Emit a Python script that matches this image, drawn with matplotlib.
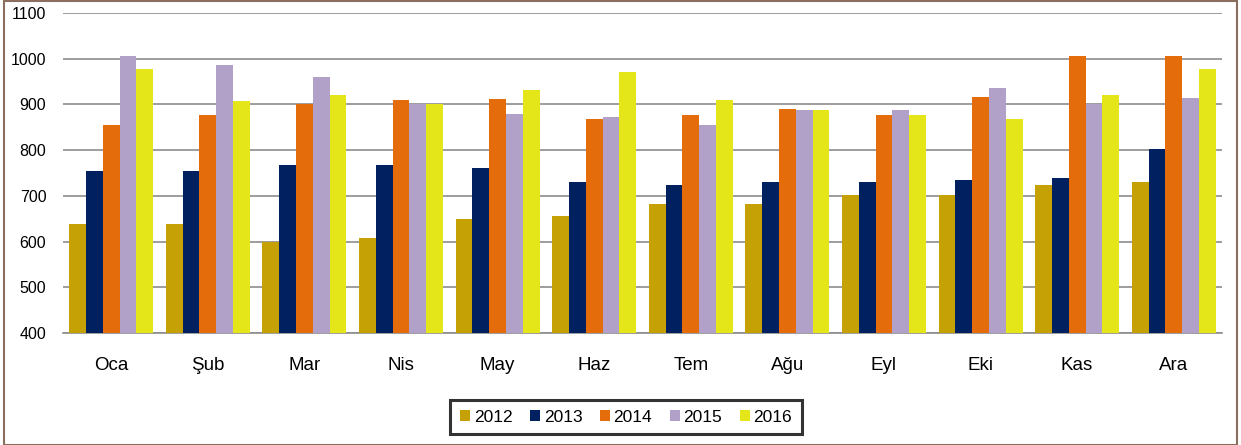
import matplotlib.pyplot as plt
import numpy as np
from matplotlib.patches import Rectangle

plt.rcParams['font.family'] = ['Liberation Sans', 'DejaVu Sans']

months = ["Oca", "Şub", "Mar", "Nis", "May", "Haz", "Tem", "Ağu", "Eyl", "Eki", "Kas", "Ara"]
years = ["2012", "2013", "2014", "2015", "2016"]

v2012 = [638, 638, 600, 607, 650, 656, 683, 683, 702, 702, 724, 730]
v2013 = [755, 755, 767, 767, 762, 730, 724, 730, 730, 735, 740, 802]
v2014 = [855, 877, 900, 910, 912, 869, 877, 891, 877, 917, 1005, 1007]
v2015 = [1005, 986, 961, 900, 880, 872, 855, 888, 888, 937, 900, 915]
v2016 = [978, 907, 920, 900, 932, 970, 910, 888, 877, 869, 920, 978]

series = [v2012, v2013, v2014, v2015, v2016]
colors = ["#C6A106", "#00205F", "#E46C0A", "#B1A0C7", "#E4E619"]

fig = plt.figure(figsize=(12.41, 4.45), dpi=100)
ax = fig.add_axes([63 / 1241, 1 - 333 / 445, (1222 - 63) / 1241, 320 / 445])

x = np.arange(len(months))
bw = 0.174
for i, (vals, c) in enumerate(zip(series, colors)):
    ax.bar(x + (i - 2) * bw, np.array(vals) - 400, bottom=400, width=bw,
           color=c, label=years[i], zorder=3)

ax.set_xlim(-0.5, len(months) - 0.5)
ax.set_ylim(400, 1100)
ax.set_yticks(range(400, 1101, 100))
ax.yaxis.grid(True, color="#8c8c8c", linewidth=1.2, zorder=0)
ax.set_xticks(x)
ax.set_xticklabels(months, fontsize=13.5)
ax.tick_params(axis="both", length=0)
ax.tick_params(axis="x", pad=17)
ax.tick_params(axis="y", labelsize=11.5, pad=12)
for s in ["top", "right", "left"]:
    ax.spines[s].set_visible(False)
ax.spines["bottom"].set_color("#8c8c8c")
ax.spines["bottom"].set_linewidth(1.2)

leg = fig.legend(loc="center", bbox_to_anchor=(626 / 1241, 1 - 417 / 445), ncol=5,
                 fontsize=12.5, frameon=True, fancybox=False, handlelength=0.6,
                 handleheight=0.6, handletextpad=0.2, columnspacing=1.0,
                 borderpad=0.55)
leg.get_frame().set_edgecolor("black")
leg.get_frame().set_linewidth(2.2)

# outer border of the chart area
fig.patches.append(Rectangle((4 / 1241, 0), 1 - 8 / 1241, 1 - 1 / 445, transform=fig.transFigure,
                             fill=False, edgecolor="#8B6F5E", linewidth=1.5))

fig.savefig("out.png", dpi=100)
